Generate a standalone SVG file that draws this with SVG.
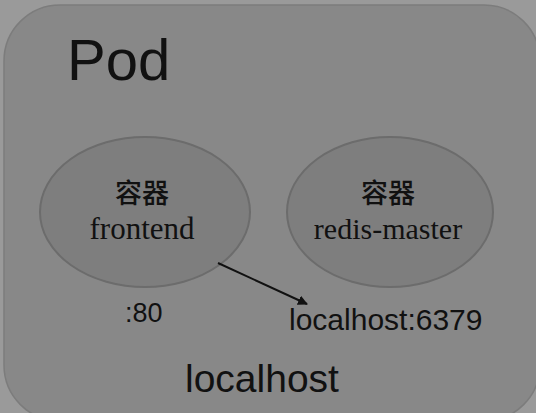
<svg xmlns="http://www.w3.org/2000/svg" width="536" height="413" viewBox="0 0 536 413">
<defs>
<style>
.sans{font-family:"Liberation Sans",Arial,sans-serif;fill:#111}
.serif{font-family:"Liberation Serif","Noto Sans CJK SC",serif;fill:#111}
.cjk{font-family:"Noto Sans CJK SC",sans-serif;fill:#111;font-weight:500}
.ell{fill:#7e7e7e;stroke:#6c6c6c;stroke-width:2}
</style>
<marker id="arr" viewBox="0 0 10 10" refX="9" refY="5" markerWidth="5" markerHeight="5" orient="auto" markerUnits="strokeWidth">
<path d="M0,0 L10,5 L0,10 z" fill="#111"/>
</marker>
</defs>
<rect x="0" y="0" width="536" height="413" fill="#9a9a9a"/>
<g id="pod">
<rect x="4" y="5" width="536" height="416" rx="56" ry="56" fill="#888888" stroke="#7c7c7c" stroke-width="1.5"/>
<text class="sans" x="67" y="80" font-size="58">Pod</text>
</g>
<g id="frontend">
<ellipse class="ell" cx="145" cy="212" rx="105" ry="75"/>
<text class="cjk" x="142" y="203" font-size="27" text-anchor="middle">容器</text>
<text class="serif" x="142" y="239" font-size="31" text-anchor="middle">frontend</text>
</g>
<g id="redis-master">
<ellipse class="ell" cx="390" cy="212" rx="103" ry="75"/>
<text class="cjk" x="388" y="203" font-size="27" text-anchor="middle">容器</text>
<text class="serif" x="388" y="239" font-size="30" text-anchor="middle">redis-master</text>
</g>
<g id="labels">
<text class="sans" x="125" y="322" font-size="27">:80</text>
<text class="sans" x="289" y="330" font-size="30">localhost:6379</text>
<text class="sans" x="185" y="392" font-size="39">localhost</text>
</g>
<g id="connectors">
<line x1="218" y1="263" x2="307" y2="304" stroke="#111" stroke-width="2" marker-end="url(#arr)"/>
</g>
</svg>
